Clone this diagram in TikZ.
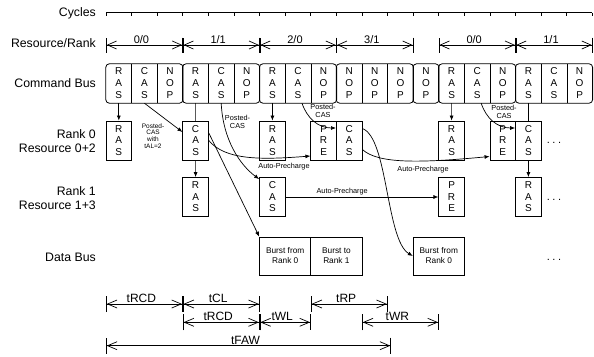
\documentclass[tikz,border=0pt]{standalone}
\usepackage{fontspec}
\setmainfont{Liberation Sans}
\usetikzlibrary{arrows.meta,calc}
\begin{document}
\begin{tikzpicture}[x=1pt,y=-1pt,
  every node/.style={inner sep=0pt},
  slot/.style={minimum width=25.6pt,minimum height=39pt,align=center,font=\fontsize{10}{12}\selectfont},
  box/.style={draw,fill=white,line width=0.8pt,minimum width=25.6pt,minimum height=39pt,align=center,font=\fontsize{10}{11.5}\selectfont},
  dbox/.style={draw,fill=white,line width=0.8pt,minimum width=51.2pt,minimum height=38pt,align=center,font=\fontsize{8.3}{10}\selectfont},
  conn/.style={line width=0.7pt,-{Latex[length=5pt,width=4pt]}},
  lab/.style={anchor=east,align=right,font=\fontsize{12.3}{14}\selectfont},
  small/.style={font=\fontsize{7.3}{8}\selectfont,align=center},
  tiny/.style={font=\fontsize{6.5}{6.8}\selectfont,align=center},
  grp/.style={line width=0.8pt,rounded corners=3.5pt},
  dimr/.style={line width=0.7pt,{Bar[width=15pt]Straight Barb[length=9pt,width=8pt]}-{Straight Barb[length=9pt,width=8pt]Bar[width=15pt]}},
  dimt/.style={line width=0.7pt,{Bar[width=16pt]Straight Barb[length=9.5pt,width=8pt]}-{Straight Barb[length=9.5pt,width=8pt]Bar[width=16pt]}},
  rlab/.style={above=1pt,xshift=-3pt,font=\fontsize{11}{12}\selectfont},
  tlab/.style={above=1pt,xshift=-3pt,font=\fontsize{12}{13}\selectfont},
  dots/.style={font=\fontsize{11}{12}\selectfont}
]
\useasboundingbox (0,0) rectangle (594,356);

% left labels
\node[lab] (lcyc) at (96,13) {Cycles};
\node[lab] (lres) at (96,43) {Resource/Rank};
\node[lab] (lcmd) at (96,83) {Command Bus};
\node[lab] (lr0) at (96,141) {Rank 0\\Resource 0+2};
\node[lab] (lr1) at (96,198) {Rank 1\\Resource 1+3};
\node[lab] (ldb) at (96,257) {Data Bus};

% cycles axis
\draw[line width=0.7pt] (106,12.7) -- (592.4,12.7);
\foreach \k in {0,...,19} \draw[line width=0.7pt] ({106+25.6*\k},12.7) -- ++(0,3.5);

% resource/rank
\draw[dimr] (106,45) -- node[rlab]{0/0} (182.8,45);
\draw[dimr] (182.8,45) -- node[rlab]{1/1} (259.6,45);
\draw[dimr] (259.6,45) -- node[rlab]{2/0} (336.4,45);
\draw[dimr] (336.4,45) -- node[rlab]{3/1} (413.2,45);
\draw[dimr] (438.8,45) -- node[rlab]{0/0} (515.6,45);
\draw[dimr] (515.6,45) -- node[rlab]{1/1} (592.4,45);

% command bus
\foreach \a/\b/\c [count=\k from 0] in {R/A/S,C/A/S,N/O/P,R/A/S,C/A/S,N/O/P,R/A/S,C/A/S,N/O/P,N/O/P,N/O/P,N/O/P,N/O/P,R/A/S,C/A/S,N/O/P,R/A/S,C/A/S,N/O/P}
  \node[slot] (c\k) at ({106+25.6*(\k+0.5)},83.5) {\a\\\b\\\c};
\foreach \a/\b in {0/2,3/5,6/8,9/11,12/12,13/15,16/18}
  \draw[grp] (c\a.north west) rectangle (c\b.south east);
\foreach \i in {0,1,3,4,6,7,9,10,13,14,16,17}
  \draw[line width=0.8pt] (c\i.north east) -- (c\i.south east);

% rank 1 boxes (drawn first, lines pass behind rank 0 boxes)
\node[box] (r1a) at (195.6,197) {R\\A\\S};
\node[box] (r1d) at (528.4,197) {R\\A\\S};
\draw[conn] (c3.south) -- (r1a.north);
\draw[conn] (c16.south) -- (r1d.north);

% rank 0 boxes
\node[box] (r0a) at (118.8,140.5) {R\\A\\S};
\node[box] (r0b) at (195.6,140.5) {C\\A\\S};
\node[box] (r0c) at (272.4,140.5) {R\\A\\S};
\node[box] (r0d) at (323.6,140.5) {P\\R\\E};
\node[box] (r0e) at (349.2,140.5) {C\\A\\S};
\node[box] (r0f) at (451.6,140.5) {R\\A\\S};
\node[box] (r0g) at (502.8,140.5) {P\\R\\E};
\node[box] (r0h) at (528.4,140.5) {C\\A\\S};
\node[dots] (dt0) at (554,143) {.\hspace{2.5pt}.\hspace{2.5pt}.};

% rank 1 other boxes
\node[box] (r1b) at (272.4,197) {C\\A\\S};
\node[box] (r1c) at (451.6,197) {P\\R\\E};
\node[dots] (dt1) at (554,200) {.\hspace{2.5pt}.\hspace{2.5pt}.};

% data bus
\node[dbox] (d1) at (285.2,256) {Burst from\\Rank 0};
\node[dbox] (d2) at (336.4,256) {Burst to\\Rank 1};
\node[dbox] (d3) at (438.8,256) {Burst from\\Rank 0};
\node[dots] (dt2) at (554,260) {.\hspace{2.5pt}.\hspace{2.5pt}.};

% connectors
\draw[conn] (c0.south) -- (r0a.north);
\draw[conn] (c1.south) -- ([yshift=8.5pt]r0b.west);
\node[tiny] (pc1) at (153,136) {Posted-\\CAS\\with\\tAL=2};
\draw[conn] (c4.south) .. controls (223,140) and (240,165) .. ([yshift=-2pt]r1b.north west);
\node[small] (pc2) at (237.5,122) {Posted-\\CAS};
\draw[conn] (c6.south) -- (r0c.north);
\draw[conn] ([xshift=4pt]c7.south) .. controls (307,118) and (318,128) .. ([yshift=12.5pt]r0e.west);
\node[small] (pc3) at (323,111) {Posted-\\CAS};
\draw[conn] (r0b.east) .. controls (225,160) and (260,160) .. ([yshift=-15.5pt]r0d.west);
\node[small] (ap1) at (284,167) {Auto-Precharge};
\draw[conn] ([yshift=7.5pt]r0b.east) -- (d1.north west);
\draw[conn] (r1b.east) -- node[small,pos=0.37,above=2pt]{Auto-Precharge} (r1c.west);
\draw[conn] ([yshift=-9pt]r0e.east) .. controls (378,164) and (420,163) .. ([yshift=-16pt]r0g.west);
\node[small] (ap3) at (423,170) {Auto-Precharge};
\draw[conn] ([yshift=12pt]r0e.east) .. controls (388,138) and (386,240) .. (d3.west);
\draw[conn] (c13.south) -- (r0f.north);
\draw[conn] ([xshift=4pt]c14.south) .. controls (486,118) and (497,128) .. ([yshift=12.5pt]r0h.west);
\node[small] (pc4) at (504,112) {Posted-\\CAS};

% timing
\draw[dimt] (106,304) -- node[tlab]{tRCD} (182.8,304);
\draw[dimt] (182.8,304) -- node[tlab]{tCL} (259.6,304);
\draw[dimt] (310.8,304) -- node[tlab]{tRP} (387.6,304);
\draw[dimt] (182.8,322.3) -- node[tlab]{tRCD} (259.6,322.3);
\draw[dimt] (259.6,322.3) -- node[tlab]{tWL} (310.8,322.3);
\draw[dimt] (362,322.3) -- node[tlab]{tWR} (438.8,322.3);
\draw[dimt] (106,345.7) -- node[tlab]{tFAW} (391,345.7);
\end{tikzpicture}
\end{document}
